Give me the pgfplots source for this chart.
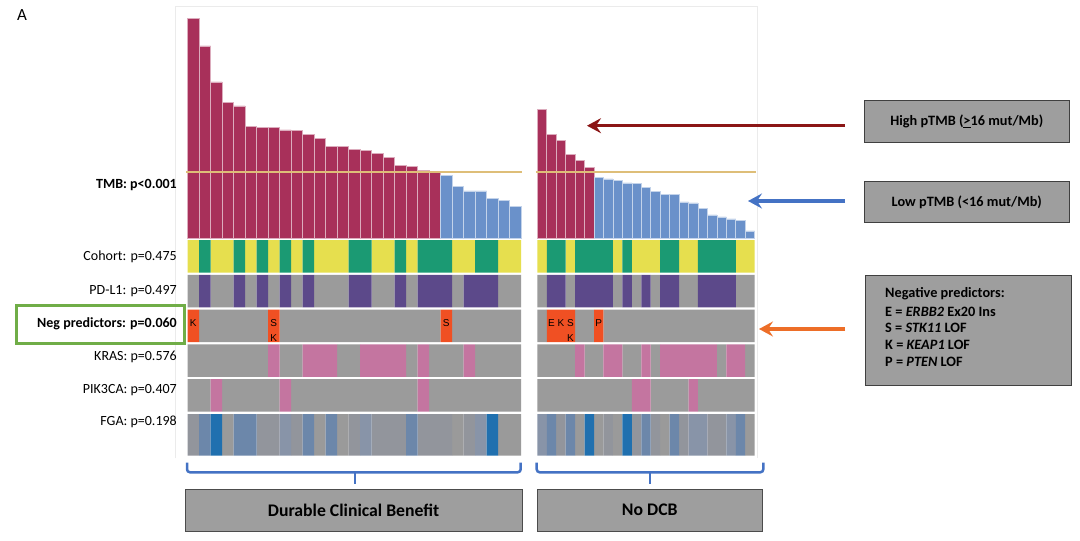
\documentclass[border=0pt]{standalone}
\usepackage{pgfplots}
\pgfplotsset{compat=1.18}
\usepackage{fontspec}
\setmainfont{Carlito}
\newfontfamily\arialfont{Liberation Sans}
\usetikzlibrary{arrows.meta}

\definecolor{hired}{RGB}{168,48,90}
\definecolor{loblue}{RGB}{106,145,202}
\definecolor{cutline}{RGB}{222,190,120}
\definecolor{cohY}{RGB}{230,223,78}
\definecolor{cohG}{RGB}{27,154,115}
\definecolor{pdlP}{RGB}{92,73,138}
\definecolor{trkG}{RGB}{155,155,155}
\definecolor{negO}{RGB}{240,80,35}
\definecolor{mutP}{RGB}{196,117,160}
\definecolor{fga0}{RGB}{154,154,154}
\definecolor{fga1}{RGB}{146,149,156}
\definecolor{fga2}{RGB}{136,148,168}
\definecolor{fga3}{RGB}{108,135,170}
\definecolor{fga4}{RGB}{32,112,175}
\definecolor{braceB}{RGB}{68,114,196}
\definecolor{boxG}{RGB}{158,158,158}
\definecolor{arrRed}{RGB}{139,22,22}
\definecolor{arrBlue}{RGB}{68,114,196}
\definecolor{arrOrange}{RGB}{237,110,40}
\definecolor{frameG}{RGB}{112,173,71}

\pgfplotsset{
  panel/.style={anchor=south west, hide axis, clip=false, ymin=0, xmin=0.5},
  grpL/.style={x=11.5pt, xmax=29.5},
  grpR/.style={x=9.45pt, xmax=23.5},
  trk/.style={panel, y=32.4pt, ymax=1},
  cell/.style={ybar, bar width=1, bar shift=0pt, draw=none, fill=#1},
  tmb/.style={ybar, bar width=1, bar shift=0pt, fill=#1, draw=#1!40!white, line width=0.6pt},
}
\newcommand\lbl{\fontsize{14}{16}\selectfont}
\newcommand\letr{\arialfont\fontsize{10}{10}\selectfont}

\begin{document}
\begin{tikzpicture}[x=1pt,y=1pt]
\fill[white] (0,0) rectangle (1080,-541);
\draw[black!8] (175.5,-458) -- (175.5,-6) -- (757,-6) -- (757,-458);
\node[font=\fontsize{17}{19}\selectfont] at (22,-15) {A};

% ---- TMB bars, durable clinical benefit
\begin{axis}[panel, grpL, y=4.14pt, ymax=55, at={(187.5pt,-238pt)}]
  \addplot[tmb=hired] coordinates {
    (1,53.0) (2,46.4) (3,37.7) (4,32.8) (5,31.9) (6,27.0) (7,26.7) (8,26.7)
    (9,26.1) (10,25.9) (11,25.1) (12,24.1) (13,22.2) (14,22.2) (15,21.4)
    (16,21.1) (17,20.5) (18,19.5) (19,17.6) (20,17.2) (21,16.4) (22,16.0)};
  \addplot[tmb=loblue] coordinates {
    (23,15.2) (24,12.4) (25,11.4) (26,11.4) (27,9.6) (28,9.0) (29,7.6)};
  \draw[cutline, line width=1.6pt] (axis cs:0.37,16) -- (axis cs:29.6,16);
\end{axis}

% ---- TMB bars, no DCB
\begin{axis}[panel, grpR, y=4.14pt, ymax=55, at={(537.3pt,-238pt)}]
  \addplot[tmb=hired] coordinates {
    (1,31.1) (2,25.0) (3,23.5) (4,20.1) (5,18.7) (6,17.1)};
  \addplot[tmb=loblue] coordinates {
    (7,14.6) (8,14.3) (9,13.9) (10,13.3) (11,13.1) (12,12.3) (13,11.3)
    (14,10.5) (15,10.5) (16,8.7) (17,8.5) (18,7.2) (19,5.6) (20,5.1)
    (21,4.6) (22,4.3) (23,1.7)};
  \draw[cutline, line width=1.6pt] (axis cs:0.36,16) -- (axis cs:23.6,16);
\end{axis}

% ---- Cohort
\begin{axis}[trk, grpL, at={(187.5pt,-272.5pt)}]
  \addplot[cell=cohY] coordinates {(1,1)(3,1)(4,1)(6,1)(8,1)(10,1)(12,1)(13,1)(14,1)(17,1)(18,1)(20,1)(24,1)(25,1)(28,1)(29,1)};
  \addplot[cell=cohG] coordinates {(2,1)(5,1)(7,1)(9,1)(11,1)(15,1)(16,1)(19,1)(21,1)(22,1)(23,1)(26,1)(27,1)};
\end{axis}
\begin{axis}[trk, grpR, at={(537.3pt,-272.5pt)}]
  \addplot[cell=cohY] coordinates {(1,1)(4,1)(9,1)(11,1)(12,1)(13,1)(16,1)(17,1)(22,1)(23,1)};
  \addplot[cell=cohG] coordinates {(2,1)(3,1)(5,1)(6,1)(7,1)(8,1)(10,1)(14,1)(15,1)(18,1)(19,1)(20,1)(21,1)};
\end{axis}

% ---- PD-L1
\begin{axis}[trk, grpL, at={(187.5pt,-307.3pt)}]
  \addplot[cell=trkG] coordinates {(1,1)(3,1)(4,1)(6,1)(8,1)(10,1)(12,1)(13,1)(14,1)(17,1)(18,1)(20,1)(24,1)(28,1)(29,1)};
  \addplot[cell=pdlP] coordinates {(2,1)(5,1)(7,1)(9,1)(11,1)(15,1)(16,1)(19,1)(21,1)(22,1)(23,1)(25,1)(26,1)(27,1)};
\end{axis}
\begin{axis}[trk, grpR, at={(537.3pt,-307.3pt)}]
  \addplot[cell=trkG] coordinates {(1,1)(4,1)(9,1)(11,1)(13,1)(16,1)(17,1)(22,1)(23,1)};
  \addplot[cell=pdlP] coordinates {(2,1)(3,1)(5,1)(6,1)(7,1)(8,1)(10,1)(12,1)(14,1)(15,1)(18,1)(19,1)(20,1)(21,1)};
\end{axis}

% ---- Negative predictors
\begin{axis}[trk, grpL, at={(187.5pt,-342pt)}]
  \addplot[cell=trkG] coordinates {(2,1)(3,1)(4,1)(5,1)(6,1)(7,1)(9,1)(10,1)(11,1)(12,1)(13,1)(14,1)(15,1)(16,1)(17,1)(18,1)(19,1)(20,1)(21,1)(22,1)(24,1)(25,1)(26,1)(27,1)(28,1)(29,1)};
  \addplot[cell=negO] coordinates {(1,1)(8,1)(23,1)};
  \node[font=\letr] at (axis cs:1,0.58) {K};
  \node[font=\letr] at (axis cs:8,0.58) {S};
  \node[font=\letr] at (axis cs:8,0.11) {K};
  \node[font=\letr] at (axis cs:23,0.58) {S};
\end{axis}
\begin{axis}[trk, grpR, at={(537.3pt,-342pt)}]
  \addplot[cell=trkG] coordinates {(1,1)(5,1)(6,1)(8,1)(9,1)(10,1)(11,1)(12,1)(13,1)(14,1)(15,1)(16,1)(17,1)(18,1)(19,1)(20,1)(21,1)(22,1)(23,1)};
  \addplot[cell=negO] coordinates {(2,1)(3,1)(4,1)(7,1)};
  \node[font=\letr] at (axis cs:2,0.58) {E};
  \node[font=\letr] at (axis cs:3,0.58) {K};
  \node[font=\letr] at (axis cs:4,0.58) {S};
  \node[font=\letr] at (axis cs:4,0.11) {K};
  \node[font=\letr] at (axis cs:7,0.58) {P};
\end{axis}

% ---- KRAS
\begin{axis}[trk, grpL, at={(187.5pt,-376.8pt)}]
  \addplot[cell=trkG] coordinates {(1,1)(2,1)(3,1)(4,1)(5,1)(6,1)(7,1)(9,1)(10,1)(14,1)(15,1)(20,1)(22,1)(23,1)(24,1)(26,1)(27,1)(28,1)(29,1)};
  \addplot[cell=mutP] coordinates {(8,1)(11,1)(12,1)(13,1)(16,1)(17,1)(18,1)(19,1)(21,1)(25,1)};
\end{axis}
\begin{axis}[trk, grpR, at={(537.3pt,-376.8pt)}]
  \addplot[cell=trkG] coordinates {(1,1)(2,1)(3,1)(4,1)(6,1)(7,1)(10,1)(11,1)(13,1)(20,1)(23,1)};
  \addplot[cell=mutP] coordinates {(5,1)(8,1)(9,1)(12,1)(14,1)(15,1)(16,1)(17,1)(18,1)(19,1)(21,1)(22,1)};
\end{axis}

% ---- PIK3CA
\begin{axis}[trk, grpL, at={(187.5pt,-411.6pt)}]
  \addplot[cell=trkG] coordinates {(1,1)(2,1)(4,1)(5,1)(6,1)(7,1)(8,1)(10,1)(11,1)(12,1)(13,1)(14,1)(15,1)(16,1)(17,1)(18,1)(19,1)(20,1)(22,1)(23,1)(24,1)(25,1)(26,1)(27,1)(28,1)(29,1)};
  \addplot[cell=mutP] coordinates {(3,1)(9,1)(21,1)};
\end{axis}
\begin{axis}[trk, grpR, at={(537.3pt,-411.6pt)}]
  \addplot[cell=trkG] coordinates {(1,1)(2,1)(3,1)(4,1)(5,1)(6,1)(7,1)(8,1)(9,1)(10,1)(13,1)(14,1)(15,1)(16,1)(18,1)(19,1)(20,1)(21,1)(22,1)(23,1)};
  \addplot[cell=mutP] coordinates {(11,1)(12,1)(17,1)};
\end{axis}

% ---- FGA (shade = level of fraction genome altered)
\begin{axis}[trk, grpL, y=41.5pt, at={(187.5pt,-455.5pt)}]
  \addplot[cell=fga0] coordinates {(4,1)(12,1)(14,1)(24,1)(28,1)(29,1)};
  \addplot[cell=fga1] coordinates {(1,1)(7,1)(8,1)(10,1)(15,1)(17,1)(18,1)(19,1)(21,1)(22,1)(23,1)(25,1)};
  \addplot[cell=fga2] coordinates {(9,1)(16,1)(26,1)};
  \addplot[cell=fga3] coordinates {(2,1)(5,1)(6,1)(11,1)(13,1)(20,1)};
  \addplot[cell=fga4] coordinates {(3,1)(27,1)};
\end{axis}
\begin{axis}[trk, grpR, y=41.5pt, at={(537.3pt,-455.5pt)}]
  \addplot[cell=fga0] coordinates {(5,1)(7,1)(9,1)(14,1)(23,1)};
  \addplot[cell=fga1] coordinates {(3,1)(8,1)(11,1)(13,1)(16,1)(19,1)(20,1)};
  \addplot[cell=fga2] coordinates {(1,1)(17,1)(18,1)(21,1)};
  \addplot[cell=fga3] coordinates {(2,1)(4,1)(12,1)(15,1)(22,1)};
  \addplot[cell=fga4] coordinates {(6,1)(10,1)};
\end{axis}

% ---- row labels
\begin{scope}[every node/.style={anchor=east, font=\lbl, inner sep=0pt}]
  \node at (177,-185) {\textbf{TMB: p<0.001}};
  \node at (177,-257) {Cohort: p=0.475};
  \node at (177,-291) {PD-L1: p=0.497};
  \node at (177,-324) {\textbf{Neg predictors: p=0.060}};
  \node at (177,-357) {KRAS: p=0.576};
  \node at (177,-390) {PIK3CA: p=0.407};
  \node at (177,-422) {FGA: p=0.198};
\end{scope}
\draw[frameG, line width=3pt] (16.5,-305.5) rectangle (184.5,-343);

% ---- braces and group boxes
\draw[braceB, line width=2.5pt, rounded corners=3pt]
  (187,-462.5) -- (187,-472.3) -- (520.7,-472.3) -- (520.7,-462.5);
\draw[braceB, line width=2.5pt] (355,-472.3) -- (355,-484.3);
\draw[braceB, line width=2.5pt, rounded corners=3pt]
  (536.7,-462.5) -- (536.7,-472.3) -- (763.3,-472.3) -- (763.3,-462.5);
\draw[braceB, line width=2.5pt] (650,-472.3) -- (650,-484.3);
\draw[fill=boxG, draw=black!70, line width=0.8pt] (185,-489) rectangle (522.3,-531);
\node[font=\fontsize{17.7}{20}\selectfont\bfseries] at (353.6,-510) {Durable Clinical Benefit};
\draw[fill=boxG, draw=black!70, line width=0.8pt] (537.3,-489) rectangle (762.3,-531);
\node[font=\fontsize{17.7}{20}\selectfont\bfseries] at (649.8,-510) {No DCB};

% ---- arrows and legend boxes
\draw[arrRed, line width=3.5pt, -{Stealth[length=14pt, width=15pt, inset=5pt]}] (845,-125.7) -- (587,-125.7);
\draw[arrBlue, line width=3.5pt, -{Stealth[length=14pt, width=15pt, inset=5pt]}] (845,-201) -- (748,-201);
\draw[arrOrange, line width=3.5pt, -{Stealth[length=14pt, width=15pt, inset=5pt]}] (845,-329) -- (759,-329);

\draw[fill=boxG, draw=black!75, line width=0.8pt] (864.3,-100.7) rectangle (1069.3,-142.7);
\node[font=\fontsize{14.3}{16}\selectfont\bfseries] at (966.8,-121.7) {High pTMB (\underline{>}16 mut/Mb)};
\draw[fill=boxG, draw=black!75, line width=0.8pt] (864.3,-181.7) rectangle (1069.3,-222.7);
\node[font=\fontsize{14.3}{16}\selectfont\bfseries] at (966.8,-202.2) {Low pTMB (<16 mut/Mb)};
\draw[fill=boxG, draw=black!75, line width=0.8pt] (865,-275) rectangle (1071.7,-385);
\begin{scope}[every node/.style={anchor=west, inner sep=0pt, font=\fontsize{14.3}{16}\selectfont\bfseries}]
  \node at (885,-293.3) {Negative predictors:};
  \node at (885,-311.7) {E = \textit{ERBB2} Ex20 Ins};
  \node at (885,-328.3) {S = \textit{STK11} LOF};
  \node at (885,-345) {K = \textit{KEAP1} LOF};
  \node at (885,-361.7) {P = \textit{PTEN} LOF};
\end{scope}
\end{tikzpicture}
\end{document}
